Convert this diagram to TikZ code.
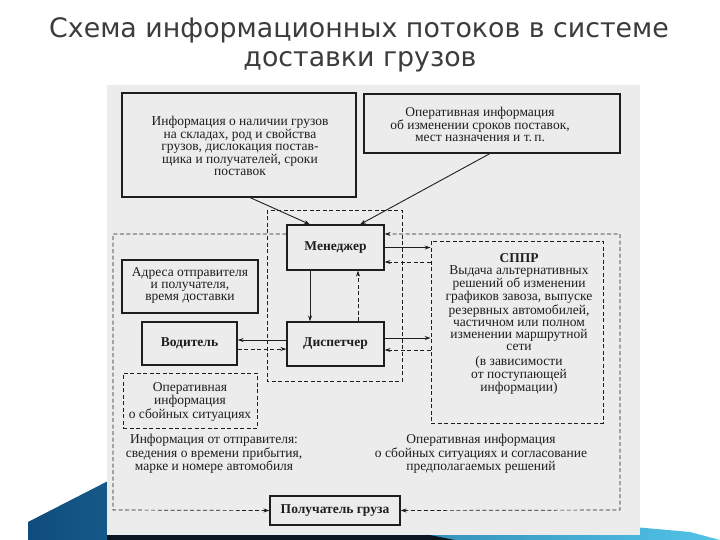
\documentclass[tikz,border=0pt]{standalone}
\usepackage{fontspec}
\setmainfont{Liberation Serif}
\newfontfamily\titlefont{DejaVu Sans}
\usetikzlibrary{arrows.meta}
\definecolor{titlegray}{HTML}{3C3C3C}
\definecolor{scanbg}{HTML}{ECECEC}
\definecolor{ink}{HTML}{1E1E1E}
\definecolor{swdark}{HTML}{0E4C7C}
\definecolor{swlight}{HTML}{52C4E8}
\definecolor{swblack}{HTML}{0B1620}
\begin{document}
\begin{tikzpicture}[x=1pt,y=-1pt,
  titletext/.style={font=\titlefont\fontsize{26.8}{30}\selectfont, text=titlegray, anchor=base},
  box/.style={draw=ink, line width=1.1pt, align=center, inner sep=0pt, text=ink,
              font=\fontsize{13.5}{12}\selectfont},
  dbox/.style={draw=ink, line width=0.7pt, dash pattern=on 4pt off 2.5pt, align=center,
               inner sep=0pt, text=ink, font=\fontsize{13.5}{12}\selectfont},
  plain/.style={align=center, inner sep=0pt, text=ink, font=\fontsize{13.5}{12}\selectfont},
  lbl/.style={font=\bfseries\fontsize{13.5}{14}\selectfont},
  tip/.tip={Stealth[length=6pt,width=4pt]},
  arr/.style={draw=ink, line width=0.9pt, -tip},
  darr/.style={arr, line width=0.7pt, dash pattern=on 4pt off 2.5pt},
  dline/.style={draw=ink, line width=0.7pt, dash pattern=on 4pt off 2.5pt}
]
\useasboundingbox (0,0) rectangle (720,540);
\fill[white] (0,0) rectangle (720,540);
% decorative swoosh
\shade[left color=swdark, right color=swlight]
  (28,522) -- (110,480) -- (690,532) -- (720,540) -- (28,540) -- cycle;
\fill[swblack] (107,533) -- (420,533) -- (455,540) -- (107,540) -- cycle;
% scanned page background
\fill[scanbg] (107,85) rectangle (640,535);
% title
\node[titletext] (t1) at (359,38) {Схема информационных потоков в системе};
\node[titletext] (t2) at (360,67) {доставки грузов};

% containers
\draw[dline] (267,210) rectangle (402,381);

% boxes
\node[box, minimum width=234pt, minimum height=104pt] (A) at (239,145) {};
\node[plain] (At) at (240,146)
  {Информация о наличии грузов\\на складах, род и свойства\\грузов, дислокация постав-\\щика и получателей, сроки\\поставок};
\node[box, minimum width=256pt, minimum height=59pt] (B) at (492,123.5) {};
\node[plain] (Bt) at (480,124.5)
  {Оперативная информация\\об изменении сроков поставок,\\мест назначения и т.\,п.};
\node[box, lbl, minimum width=97pt, minimum height=45pt] (M) at (335.5,247.5) {Менеджер};
\node[box, lbl, minimum width=97pt, minimum height=44pt] (D) at (335.5,344) {Диспетчер};
\node[dbox, minimum width=172pt, minimum height=182pt] (S) at (517,332) {};
\node[plain] (St) at (519,324)
  {{\bfseries СППР}\\Выдача альтернативных\\решений об изменении\\графиков завоза, выпуске\\резервных автомобилей,\\частичном или полном\\изменении маршрутной\\сети\\[3pt](в зависимости\\от поступающей\\информации)};
\node[box, minimum width=136pt, minimum height=53pt] (Ad) at (190,286.5) {};
\node[plain] (Adt) at (190,285.5)
  {Адреса отправителя\\и получателя,\\время доставки};
\node[box, lbl, minimum width=95pt, minimum height=43pt] (V) at (189.5,343.5) {Водитель};
\node[dbox, minimum width=134pt, minimum height=55pt] (F) at (190,400.5) {};
\node[plain] (Ft) at (190,402)
  {Оперативная\\информация\\о сбойных ситуациях};
\node[plain] (L) at (214,454)
  {Информация от отправителя:\\сведения о времени прибытия,\\марке и номере автомобиля};
\node[plain] (R) at (481,454)
  {Оперативная информация\\о сбойных ситуациях и согласование\\предполагаемых решений};
\node[box, lbl, minimum width=130pt, minimum height=29pt] (P) at (335,510.5) {Получатель груза};

% outer loop
\coordinate (c1) at (113,234);
\coordinate (c2) at (113,510);
\coordinate (c3) at (620,510);
\coordinate (c4) at (620,234);
\draw[darr] ([yshift=13.5pt]M.west) -- (c1) -- (c2) -- (P.west);
\draw[darr, tip-tip] (P.east) -- (c3) -- (c4) -- ([yshift=13.5pt]M.east);

% connectors
\draw[arr] ([xshift=11pt]A.south) -- ([xshift=-25.5pt]M.north);
\draw[arr] ([xshift=-2pt]B.south) -- ([xshift=24.5pt]M.north);
\draw[arr] (M.east) -- (M.east -| S.west);
\draw[darr] ([yshift=-14.5pt]M.east -| S.west) -- ([yshift=-14.5pt]M.east);
\draw[arr] ([xshift=-25.5pt]M.south) -- ([xshift=-25.5pt]D.north);
\draw[darr] ([xshift=22.5pt]D.north) -- ([xshift=22.5pt]M.south);
\draw[arr] ([yshift=6pt]D.east) -- ([yshift=6pt]D.east -| S.west);
\draw[darr] ([yshift=-6pt]D.east -| S.west) -- ([yshift=-6pt]D.east);
\draw[arr] ([yshift=4pt]D.west) -- ([yshift=4pt]D.west -| V.east);
\draw[darr] ([yshift=-5pt]D.west -| V.east) -- ([yshift=-5pt]D.west);
\end{tikzpicture}
\end{document}
